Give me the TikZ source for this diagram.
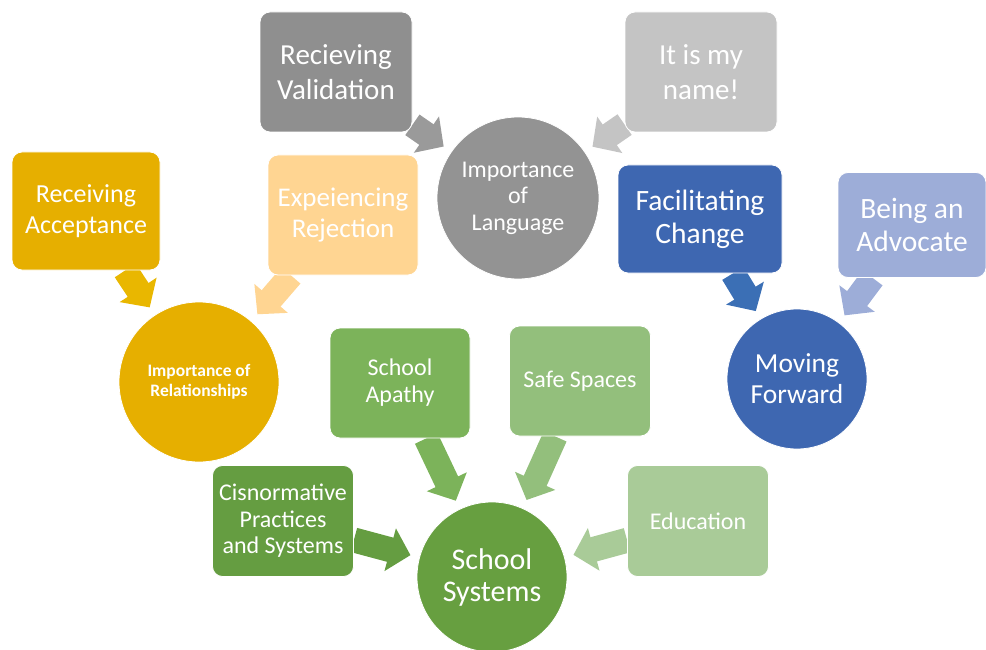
\documentclass[tikz,border=0pt]{standalone}
\usepackage{fontspec}
\setmainfont{Carlito}
\usetikzlibrary{arrows.meta}
\usetikzlibrary{backgrounds}

\definecolor{relgold}{RGB}{230,175,0}
\definecolor{rejpeach}{RGB}{255,213,146}
\definecolor{valgray}{RGB}{143,143,143}
\definecolor{langgray}{RGB}{147,147,147}
\definecolor{namegray}{RGB}{196,196,196}
\definecolor{movblue}{RGB}{62,103,177}
\definecolor{advblue}{RGB}{157,173,216}
\definecolor{apathygreen}{RGB}{124,179,90}
\definecolor{safegreen}{RGB}{147,191,124}
\definecolor{cisgreen}{RGB}{101,157,65}
\definecolor{edugreen}{RGB}{169,203,152}
\definecolor{sysgreen}{RGB}{103,159,64}

% font size / baseline skip
\newcommand{\fs}[2]{\fontsize{#1}{#2}\selectfont}

\begin{document}
\begin{tikzpicture}[x=1pt, y=-1pt,
  box/.style 2 args={rectangle, rounded corners=10pt, draw=white, line width=0.8pt,
    minimum width=#1, minimum height=#2, inner sep=0pt, align=center, text=white},
  hub/.style={circle, draw=white, line width=0.8pt, minimum size=#1, inner sep=0pt,
    align=center, text=white},
  inflow/.style={line width=25pt, -{Triangle[width=43pt,length=21pt]}, shorten >=9pt}]

\useasboundingbox (0,0) rectangle (986,650);

%---------------------------------------
% Language
%---------------------------------------
\node[hub=162pt, fill=langgray, font=\fs{24}{26.5}] (lang) at (518,198) {Importance\\of\\Language};
\node[box={152pt}{120pt}, fill=valgray, font=\fs{29}{35}] (valid) at (336,72) {Recieving\\Validation};
\node[box={152pt}{120pt}, fill=namegray, font=\fs{29}{35}] (name) at (701,72) {It is my\\name!};

%---------------------------------------
% Relationships
%---------------------------------------
\node[hub=160pt, fill=relgold, font=\fs{17.5}{20.5}\bfseries] (rel) at (199,382) {Importance of\\Relationships};
\node[box={148pt}{118pt}, fill=relgold, font=\fs{26}{31.5}] (accept) at (86,211) {Receiving\\Acceptance};
\node[box={150pt}{120pt}, fill=rejpeach, font=\fs{27}{31.5}] (reject) at (343,215) {Expeiencing\\Rejection};

%---------------------------------------
% Moving forward
%---------------------------------------
\node[hub=140pt, fill=movblue, font=\fs{27.5}{31}] (move) at (797,379) {Moving\\Forward};
\node[box={164pt}{108pt}, fill=movblue, font=\fs{29.5}{33}] (change) at (700,219) {Facilitating\\Change};
\node[box={148pt}{105pt}, fill=advblue, font=\fs{29.5}{33}] (advoc) at (912,225) {Being an\\Advocate};

%---------------------------------------
% School systems
%---------------------------------------
\node[hub=150pt, fill=sysgreen, font=\fs{30}{32}] (school) at (492,577) {School\\Systems};
\node[box={140pt}{110pt}, fill=apathygreen, font=\fs{24}{27}] (apathy) at (400,383) {School\\Apathy};
\node[box={141pt}{110pt}, fill=safegreen, font=\fs{24}{27}] (safe) at (580,381) {Safe Spaces};
\node[box={141pt}{111pt}, fill=cisgreen, font=\fs{24}{26.5}] (cis) at (283,521) {Cisnormative\\Practices\\and Systems};
\node[box={141pt}{111pt}, fill=edugreen, font=\fs{24}{27}] (edu) at (698,521) {Education};

% block arrows, kept behind the shapes
\begin{scope}[on background layer]
  \draw[inflow, valgray!90] (valid) -- (lang);
  \draw[inflow, namegray] (name) -- (lang);
  \draw[inflow, relgold!90!yellow] (accept) -- (rel);
  \draw[inflow, rejpeach] (reject) -- (rel);
  \draw[inflow, movblue!95!cyan] (change) -- (move);
  \draw[inflow, advblue] (advoc) -- (move);
  \draw[inflow, apathygreen] (apathy) -- (school);
  \draw[inflow, safegreen] (safe) -- (school);
  \draw[inflow, cisgreen] (cis) -- (school);
  \draw[inflow, edugreen] (edu) -- (school);
\end{scope}

\end{tikzpicture}
\end{document}
